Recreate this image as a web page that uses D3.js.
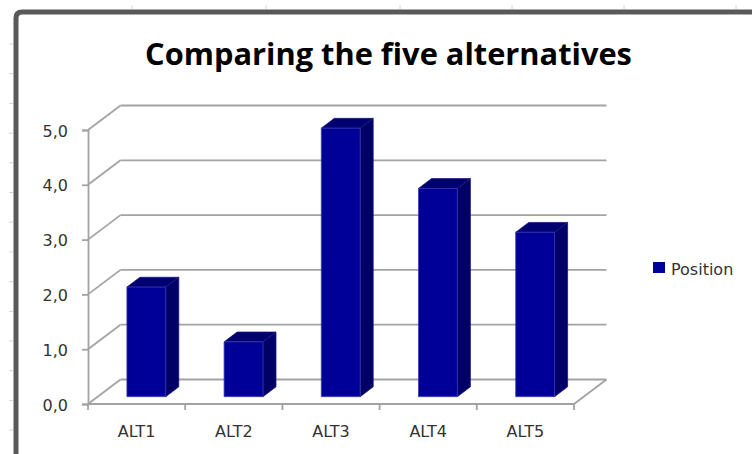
<!DOCTYPE html>
<html>
<head>
<meta charset="utf-8">
<script src="https://d3js.org/d3.v7.min.js"></script>
<style>
  html, body { margin: 0; padding: 0; background: #fff; }
  svg { display: block; }
</style>
</head>
<body>
<svg id="chart" width="752" height="454"></svg>
<script>
// ---- data ----
const categories = ["ALT1", "ALT2", "ALT3", "ALT4", "ALT5"];
const seriesName = "Position";
const values = [2.0, 1.0, 4.9, 3.8, 3.0];
const yTicks = [0, 1, 2, 3, 4, 5];
const title = "Comparing the five alternatives";

// ---- layout ----
const W = 752, H = 454;
const svg = d3.select("#chart");
const plot = { left: 88, right: 574, top: 130, bottom: 404 };
const depth = { dx: 32.5, dy: -24.5 };
const barFront = 0.3, barBack = 0.7, barWidthFrac = 0.4;

const x = d3.scaleBand().domain(categories).range([plot.left, plot.right]).padding(0);
const y = d3.scaleLinear().domain([0, 5]).range([plot.bottom, plot.top]);

const gridColor = "#a3a3a3";
const textColor = "#333";
const fontSmall = "'DejaVu Sans', Verdana, sans-serif";

// background spreadsheet ticks (decoration)
const deco = svg.append("g").attr("stroke", "#d4d4d4").attr("stroke-width", 1);
d3.range(44, H, 29.7).forEach(v => {
  deco.append("line").attr("x1", 9).attr("x2", 13).attr("y1", v).attr("y2", v);
});
[132, 266, 400, 512, 624, 736].forEach(v => {
  deco.append("line").attr("x1", v).attr("x2", v).attr("y1", 5).attr("y2", 9);
});

// frame
svg.append("path")
  .attr("d", `M16,${H + 5} V18 Q16,12 22,12 H${W + 5}`)
  .attr("fill", "none")
  .attr("stroke", "#595959")
  .attr("stroke-width", 5);

// title
const t = svg.append("text")
  .attr("x", 388.5).attr("y", 65)
  .attr("text-anchor", "middle")
  .attr("font-family", "'Open Sans', Lato, sans-serif")
  .attr("font-weight", "bold")
  .attr("font-size", 27)
  .attr("fill", "#000")
  .text(title);
const tw = t.node().getComputedTextLength();
if (tw > 0) t.attr("font-size", 27 * 487 / tw);

// walls & floor gridlines
const grid = svg.append("g").attr("fill", "none").attr("stroke", gridColor).attr("stroke-width", 1.8);
yTicks.forEach(v => {
  const yy = y(v);
  // back wall
  grid.append("line")
    .attr("x1", plot.left + depth.dx).attr("x2", plot.right + depth.dx)
    .attr("y1", yy + depth.dy).attr("y2", yy + depth.dy);
  // side wall diagonal
  grid.append("line")
    .attr("x1", plot.left).attr("x2", plot.left + depth.dx)
    .attr("y1", yy).attr("y2", yy + depth.dy);
});
// floor front and right edges
grid.append("path")
  .attr("d", `M${plot.left},${y(0)} H${plot.right} L${plot.right + depth.dx},${y(0) + depth.dy}`);

// bars
const bars = svg.append("g");
categories.forEach((c, i) => {
  const bw = x.bandwidth() * barWidthFrac;
  const fdx = depth.dx * barFront, fdy = depth.dy * barFront;
  const sdx = depth.dx * (barBack - barFront), sdy = depth.dy * (barBack - barFront);
  const x0 = x(c) + x.bandwidth() / 2 - bw / 2 + fdx;
  const x1 = x0 + bw;
  const yb = y(0) + fdy;
  const yt = y(values[i]) + fdy;
  const g = bars.append("g").attr("stroke-width", 0.8).attr("stroke-linejoin", "round");
  // side
  g.append("path")
    .attr("d", `M${x1},${yb} L${x1 + sdx},${yb + sdy} L${x1 + sdx},${yt + sdy} L${x1},${yt} Z`)
    .attr("fill", "#000066").attr("stroke", "#1a1a7a");
  // top
  g.append("path")
    .attr("d", `M${x0},${yt} L${x1},${yt} L${x1 + sdx},${yt + sdy} L${x0 + sdx},${yt + sdy} Z`)
    .attr("fill", "#000070").attr("stroke", "#1a1a80");
  // front
  g.append("rect")
    .attr("x", x0).attr("y", yt).attr("width", bw).attr("height", yb - yt)
    .attr("fill", "#000099").attr("stroke", "#3838b0");
});

// y axis
const yAxis = d3.axisLeft(y)
  .tickValues(yTicks)
  .tickSize(6)
  .tickPadding(14)
  .tickFormat(d => d3.format(".1f")(d).replace(".", ","));
const ya = svg.append("g").attr("transform", `translate(${plot.left},0)`).call(yAxis);
ya.select(".domain").attr("stroke", gridColor).attr("stroke-width", 1.8);
ya.selectAll(".tick line").attr("stroke", gridColor).attr("stroke-width", 1.8);
ya.selectAll(".tick text")
  .attr("font-family", fontSmall).attr("font-size", 16).attr("fill", textColor).attr("dy", "0.38em");

// x axis (ticks at category boundaries, labels at centers)
const xa = svg.append("g").attr("stroke", gridColor).attr("stroke-width", 1.8);
const bounds = categories.map(c => x(c)).concat([x(categories[categories.length - 1]) + x.bandwidth()]);
bounds.forEach(b => {
  xa.append("line").attr("x1", b).attr("x2", b).attr("y1", y(0)).attr("y2", y(0) + 6);
});
svg.append("g").selectAll("text").data(categories).join("text")
  .attr("x", d => x(d) + x.bandwidth() / 2)
  .attr("y", 437)
  .attr("text-anchor", "middle")
  .attr("font-family", fontSmall).attr("font-size", 16).attr("fill", textColor)
  .text(d => d);

// legend
const lg = svg.append("g").attr("transform", "translate(653,262)");
lg.append("rect").attr("width", 12).attr("height", 11).attr("fill", "#000099");
lg.append("text").attr("x", 18).attr("y", 12.5)
  .attr("font-family", fontSmall).attr("font-size", 16).attr("fill", textColor)
  .text(seriesName);
</script>
</body>
</html>
